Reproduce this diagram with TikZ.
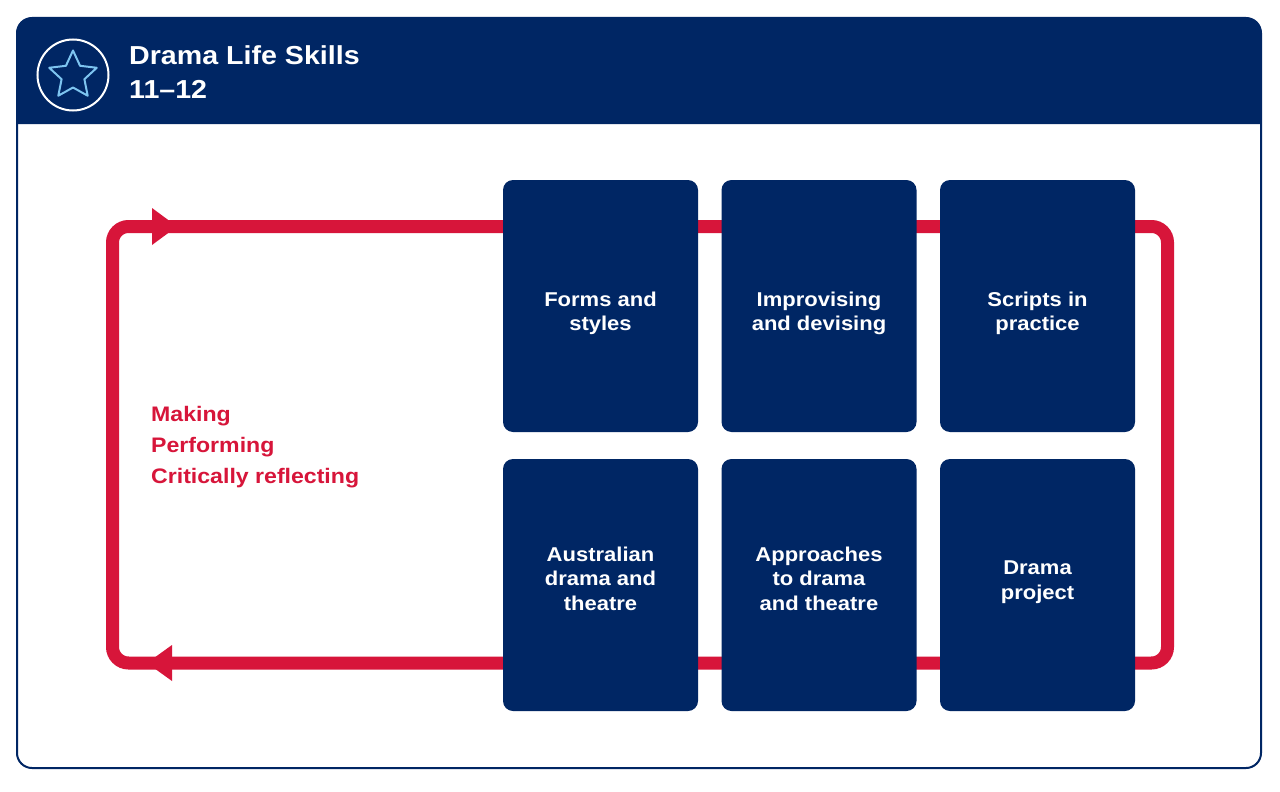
\documentclass[tikz,border=0pt]{standalone}
\usepackage{fontspec}
\setmainfont[FakeStretch=1.1]{Liberation Sans}
\definecolor{navy}{RGB}{0,38,100}
\definecolor{nswred}{RGB}{215,21,58}
\definecolor{starblue}{RGB}{125,196,240}
\begin{document}
\begin{tikzpicture}[x=1pt,y=-1pt,
  card/.style={fill=navy, rounded corners=10pt, minimum width=195pt, minimum height=252pt, inner sep=0pt, draw=none},
  cardtext/.style={text=white, font=\bfseries\fontsize{20}{24.5}\selectfont, align=center, inner sep=0pt},
  loopline/.style={draw=nswred, line width=13pt, rounded corners=16pt},
  arrowtip/.style={fill=nswred},
  cycletext/.style={text=nswred, font=\bfseries\fontsize{21}{31}\selectfont, align=left, inner sep=0pt, anchor=west},
  titletext/.style={text=white, font=\bfseries\fontsize{26}{33.4}\selectfont, align=left, inner sep=0pt, anchor=west}]
\useasboundingbox (0,0) rectangle (1280,792);
\fill[white] (0,0) rectangle (1280,792);
% header
\fill[navy] (17,124) [rounded corners=15pt] -- (17,18) -- (1261,18) [sharp corners] -- (1261,124) -- cycle;
\draw[navy, line width=2pt, rounded corners=15pt] (17,18) rectangle (1261,768);
% icon
\node[circle, draw=white, line width=2pt, minimum size=71pt, inner sep=0pt] (icon) at (73,75) {};
\draw[starblue, line width=2pt, line join=round, shift={(73,75.5)}]
  (-90:25) -- (-54:12) -- (-18:25) -- (18:12) -- (54:25) -- (90:12) -- (126:25) -- (162:12) -- (198:25) -- (234:12) -- cycle;
\node[titletext] (title) at (129,72) {Drama Life Skills\\11--12};
% loop
\coordinate (loopTL) at (112.5,226.5);
\coordinate (loopBR) at (1167.5,663);
\draw[loopline] (loopTL) rectangle (loopBR);
\fill[arrowtip] (152,208) -- (177,226.5) -- (152,245) -- cycle;
\fill[arrowtip] (172,645) -- (147,663) -- (172,681) -- cycle;
\node[cycletext] (cycle) at (151,447.5) {Making\\Performing\\Critically reflecting};
% cards
\node[card] (c1) at (600.5,306) {};
\node[card] (c2) at (819,306) {};
\node[card] (c3) at (1037.5,306) {};
\node[card] (c4) at (600.5,585) {};
\node[card] (c5) at (819,585) {};
\node[card] (c6) at (1037.5,585) {};
\node[cardtext] (t1) at (600.5,313.5) {Forms and\\styles};
\node[cardtext] (t2) at (819,313.5) {Improvising\\and devising};
\node[cardtext] (t3) at (1037.5,313.5) {Scripts in\\practice};
\node[cardtext] (t4) at (600.5,578.5) {Australian\\drama and\\theatre};
\node[cardtext] (t5) at (819,578.5) {Approaches\\to drama\\and theatre};
\node[cardtext] (t6) at (1037.5,582) {Drama\\project};
\end{tikzpicture}
\end{document}
